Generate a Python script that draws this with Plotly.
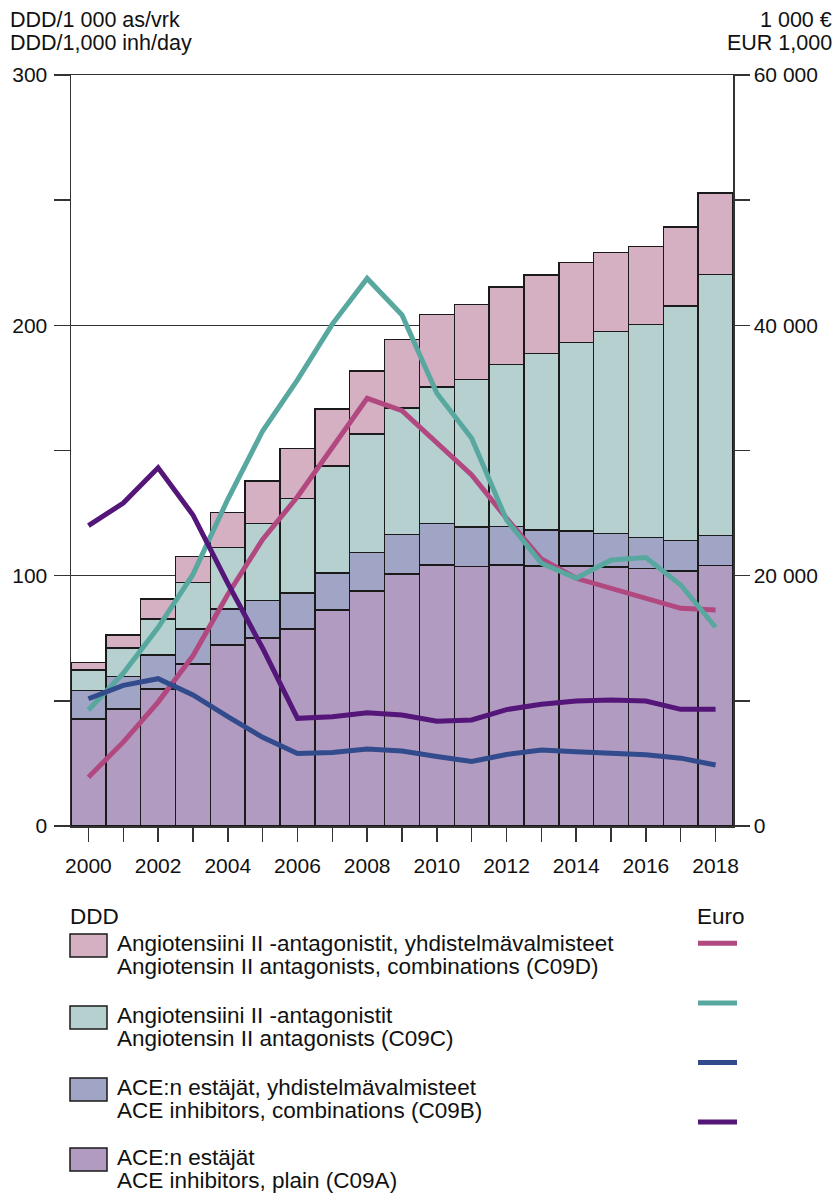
import plotly.graph_objects as go

years = list(range(2000, 2019))

# DDD/1000 inh/day (stacked bars)
c09a_plain = [42.7, 46.7, 54.7, 64.7, 72.3, 75.2, 78.7, 86.3, 93.9, 100.6, 104.3, 103.6, 104.3, 103.9, 103.9, 103.4, 102.8, 101.9, 104.0]
c09b_comb = [11.4, 13.0, 13.6, 14.0, 14.4, 14.8, 14.3, 14.7, 15.4, 15.9, 16.5, 15.9, 15.4, 14.4, 14.0, 13.4, 12.4, 12.2, 12.1]
c09c_ara = [8.2, 11.4, 14.4, 18.6, 24.6, 30.9, 37.8, 42.8, 47.2, 50.5, 54.6, 58.8, 64.6, 70.4, 75.3, 80.7, 85.2, 93.6, 104.3]
c09d_comb = [3.0, 5.3, 8.0, 10.3, 13.9, 16.9, 20.1, 22.7, 25.3, 27.4, 29.0, 30.1, 31.1, 31.4, 31.9, 31.6, 31.0, 31.6, 32.5]

# Euro (1000 EUR) lines
eur_c09d = [3900, 6700, 9900, 13600, 18500, 22900, 26300, 30300, 34170, 33180, 30580, 28050, 24580, 21330, 19790, 18990, 18160, 17390, 17260]
eur_c09c = [9270, 12200, 15850, 20100, 26100, 31560, 35640, 40100, 43750, 40830, 34570, 30980, 24450, 20990, 19790, 21250, 21450, 19260, 15880]
eur_c09b = [10170, 11240, 11770, 10470, 8730, 7080, 5800, 5880, 6150, 5990, 5560, 5150, 5710, 6070, 5930, 5820, 5690, 5420, 4870]
eur_c09a = [24000, 25800, 28620, 24850, 19390, 14200, 8600, 8730, 9050, 8870, 8370, 8470, 9300, 9720, 9990, 10070, 9990, 9320, 9320]

left_ticks = [0, 100, 200, 300]
right_ticks = [0, 20000, 40000, 60000]
right_labels = ["0", "20 000", "40 000", "60 000"]

legend_fi = ["Angiotensiini II -antagonistit, yhdistelmävalmisteet",
             "Angiotensiini II -antagonistit",
             "ACE:n estäjät, yhdistelmävalmisteet",
             "ACE:n estäjät"]
legend_en = ["Angiotensin II antagonists, combinations (C09D)",
             "Angiotensin II antagonists (C09C)",
             "ACE inhibitors, combinations (C09B)",
             "ACE inhibitors, plain (C09A)"]

bar_colors = {"a": "#B29BC0", "b": "#A0A4C5", "c": "#B5D0CF", "d": "#D4B0C2"}
line_colors = {"d": "#B24880", "c": "#58A8A0", "b": "#324B8C", "a": "#541678"}

FONT = "Liberation Sans, Arial, sans-serif"
FS = 21
FS_TITLE = 21.5
FS_LEG = 22.5
INK = "#111111"
AX = "#333333"

W, H = 836, 1193
PL, PR, PT, PB = 71, 733, 75, 826   # plot area in page pixels


def px(x):
    return (x - PL) / (PR - PL)


def py(y):
    return (PB - y) / (PB - PT)


fig = go.Figure()
for vals, key in [(c09a_plain, "a"), (c09b_comb, "b"), (c09c_ara, "c"), (c09d_comb, "d")]:
    fig.add_trace(go.Bar(x=years, y=vals, width=1.0,
                         marker=dict(color=bar_colors[key], line=dict(color="#1a1a1a", width=1.5)),
                         showlegend=False, hoverinfo="skip"))

for vals, key in [(eur_c09d, "d"), (eur_c09c, "c"), (eur_c09b, "b"), (eur_c09a, "a")]:
    fig.add_trace(go.Scatter(x=years, y=vals, yaxis="y2", mode="lines",
                             line=dict(color=line_colors[key], width=5),
                             showlegend=False, hoverinfo="skip"))

fig.update_layout(
    width=W, height=H,
    margin=dict(l=PL, r=W - PR, t=PT, b=H - PB, pad=0),
    barmode="stack", bargap=0,
    paper_bgcolor="white", plot_bgcolor="white",
    font=dict(family=FONT, size=FS, color=INK),
    showlegend=False,
    xaxis=dict(range=[1999.5, 2018.5], tickmode="array", tickvals=years,
               ticktext=[str(y) if y % 2 == 0 else "" for y in years],
               ticks="outside", ticklen=14, tickwidth=1.5, tickcolor=AX,
               ticklabelstandoff=6, automargin=False,
               showline=True, linecolor=AX, linewidth=1.5, mirror=True,
               showgrid=False, zeroline=False,
               tickfont=dict(family=FONT, size=FS, color=INK)),
    yaxis=dict(range=[0, 300], tickmode="array", tickvals=left_ticks,
               ticks="outside", ticklen=16, tickwidth=1.5, tickcolor=AX,
               ticklabelstandoff=2, automargin=False,
               minor=dict(tickmode="linear", tick0=0, dtick=50, ticks="outside",
                          ticklen=16, tickwidth=1.5, tickcolor=AX, showgrid=False),
               showline=True, linecolor=AX, linewidth=1.5,
               showgrid=True, gridcolor=AX, gridwidth=1.5, zeroline=False,
               tickfont=dict(family=FONT, size=FS, color=INK)),
    yaxis2=dict(range=[0, 60000], overlaying="y", side="right",
                tickmode="array", tickvals=right_ticks, ticktext=right_labels,
                ticks="outside", ticklen=15, tickwidth=1.5, tickcolor=AX,
                automargin=False,
                minor=dict(tickmode="linear", tick0=0, dtick=10000, ticks="outside",
                           ticklen=15, tickwidth=1.5, tickcolor=AX, showgrid=False),
                showline=True, linecolor=AX, linewidth=1.5,
                showgrid=False, zeroline=False,
                tickfont=dict(family=FONT, size=FS, color=INK)),
)

ann = []


def text(s, x, y, anchor="left", size=FS):
    ann.append(dict(text=s, x=px(x), y=py(y), xref="paper", yref="paper",
                    xanchor=anchor, yanchor="middle", showarrow=False,
                    font=dict(family=FONT, size=size, color=INK)))


text("DDD/1 000 as/vrk", 8, 20, size=FS_TITLE)
text("DDD/1,000 inh/day", 8, 43, size=FS_TITLE)
text("1 000 €", 834, 20, "right", size=FS_TITLE)
text("EUR 1,000", 834, 43, "right", size=FS_TITLE)

text("DDD", 68, 916, size=FS_LEG)
text("Euro", 695, 916, size=FS_LEG)

shapes = []
order = ["d", "c", "b", "a"]
for i, key in enumerate(order):
    top = 934 + 72 * i - (2 if i == 3 else 0)
    shapes.append(dict(type="rect", xref="paper", yref="paper",
                       x0=px(70), x1=px(107), y0=py(top), y1=py(top + 23),
                       fillcolor=bar_colors[key], line=dict(color="#1a1a1a", width=1.5)))
    text(legend_fi[i], 115, top + 9.5, size=FS_LEG)
    text(legend_en[i], 115, top + 32.5, size=FS_LEG)
    ly = 943.3 + 59.6 * i
    shapes.append(dict(type="line", xref="paper", yref="paper",
                       x0=px(698), x1=px(737), y0=py(ly), y1=py(ly),
                       line=dict(color=line_colors[key], width=5)))

fig.update_layout(annotations=ann, shapes=shapes)
fig.write_html(
    "out.html",
    config={"displayModeBar": False, "staticPlot": True},
    post_script="document.body.style.margin='0';document.documentElement.style.overflow='hidden';document.body.style.overflow='hidden';",
)
